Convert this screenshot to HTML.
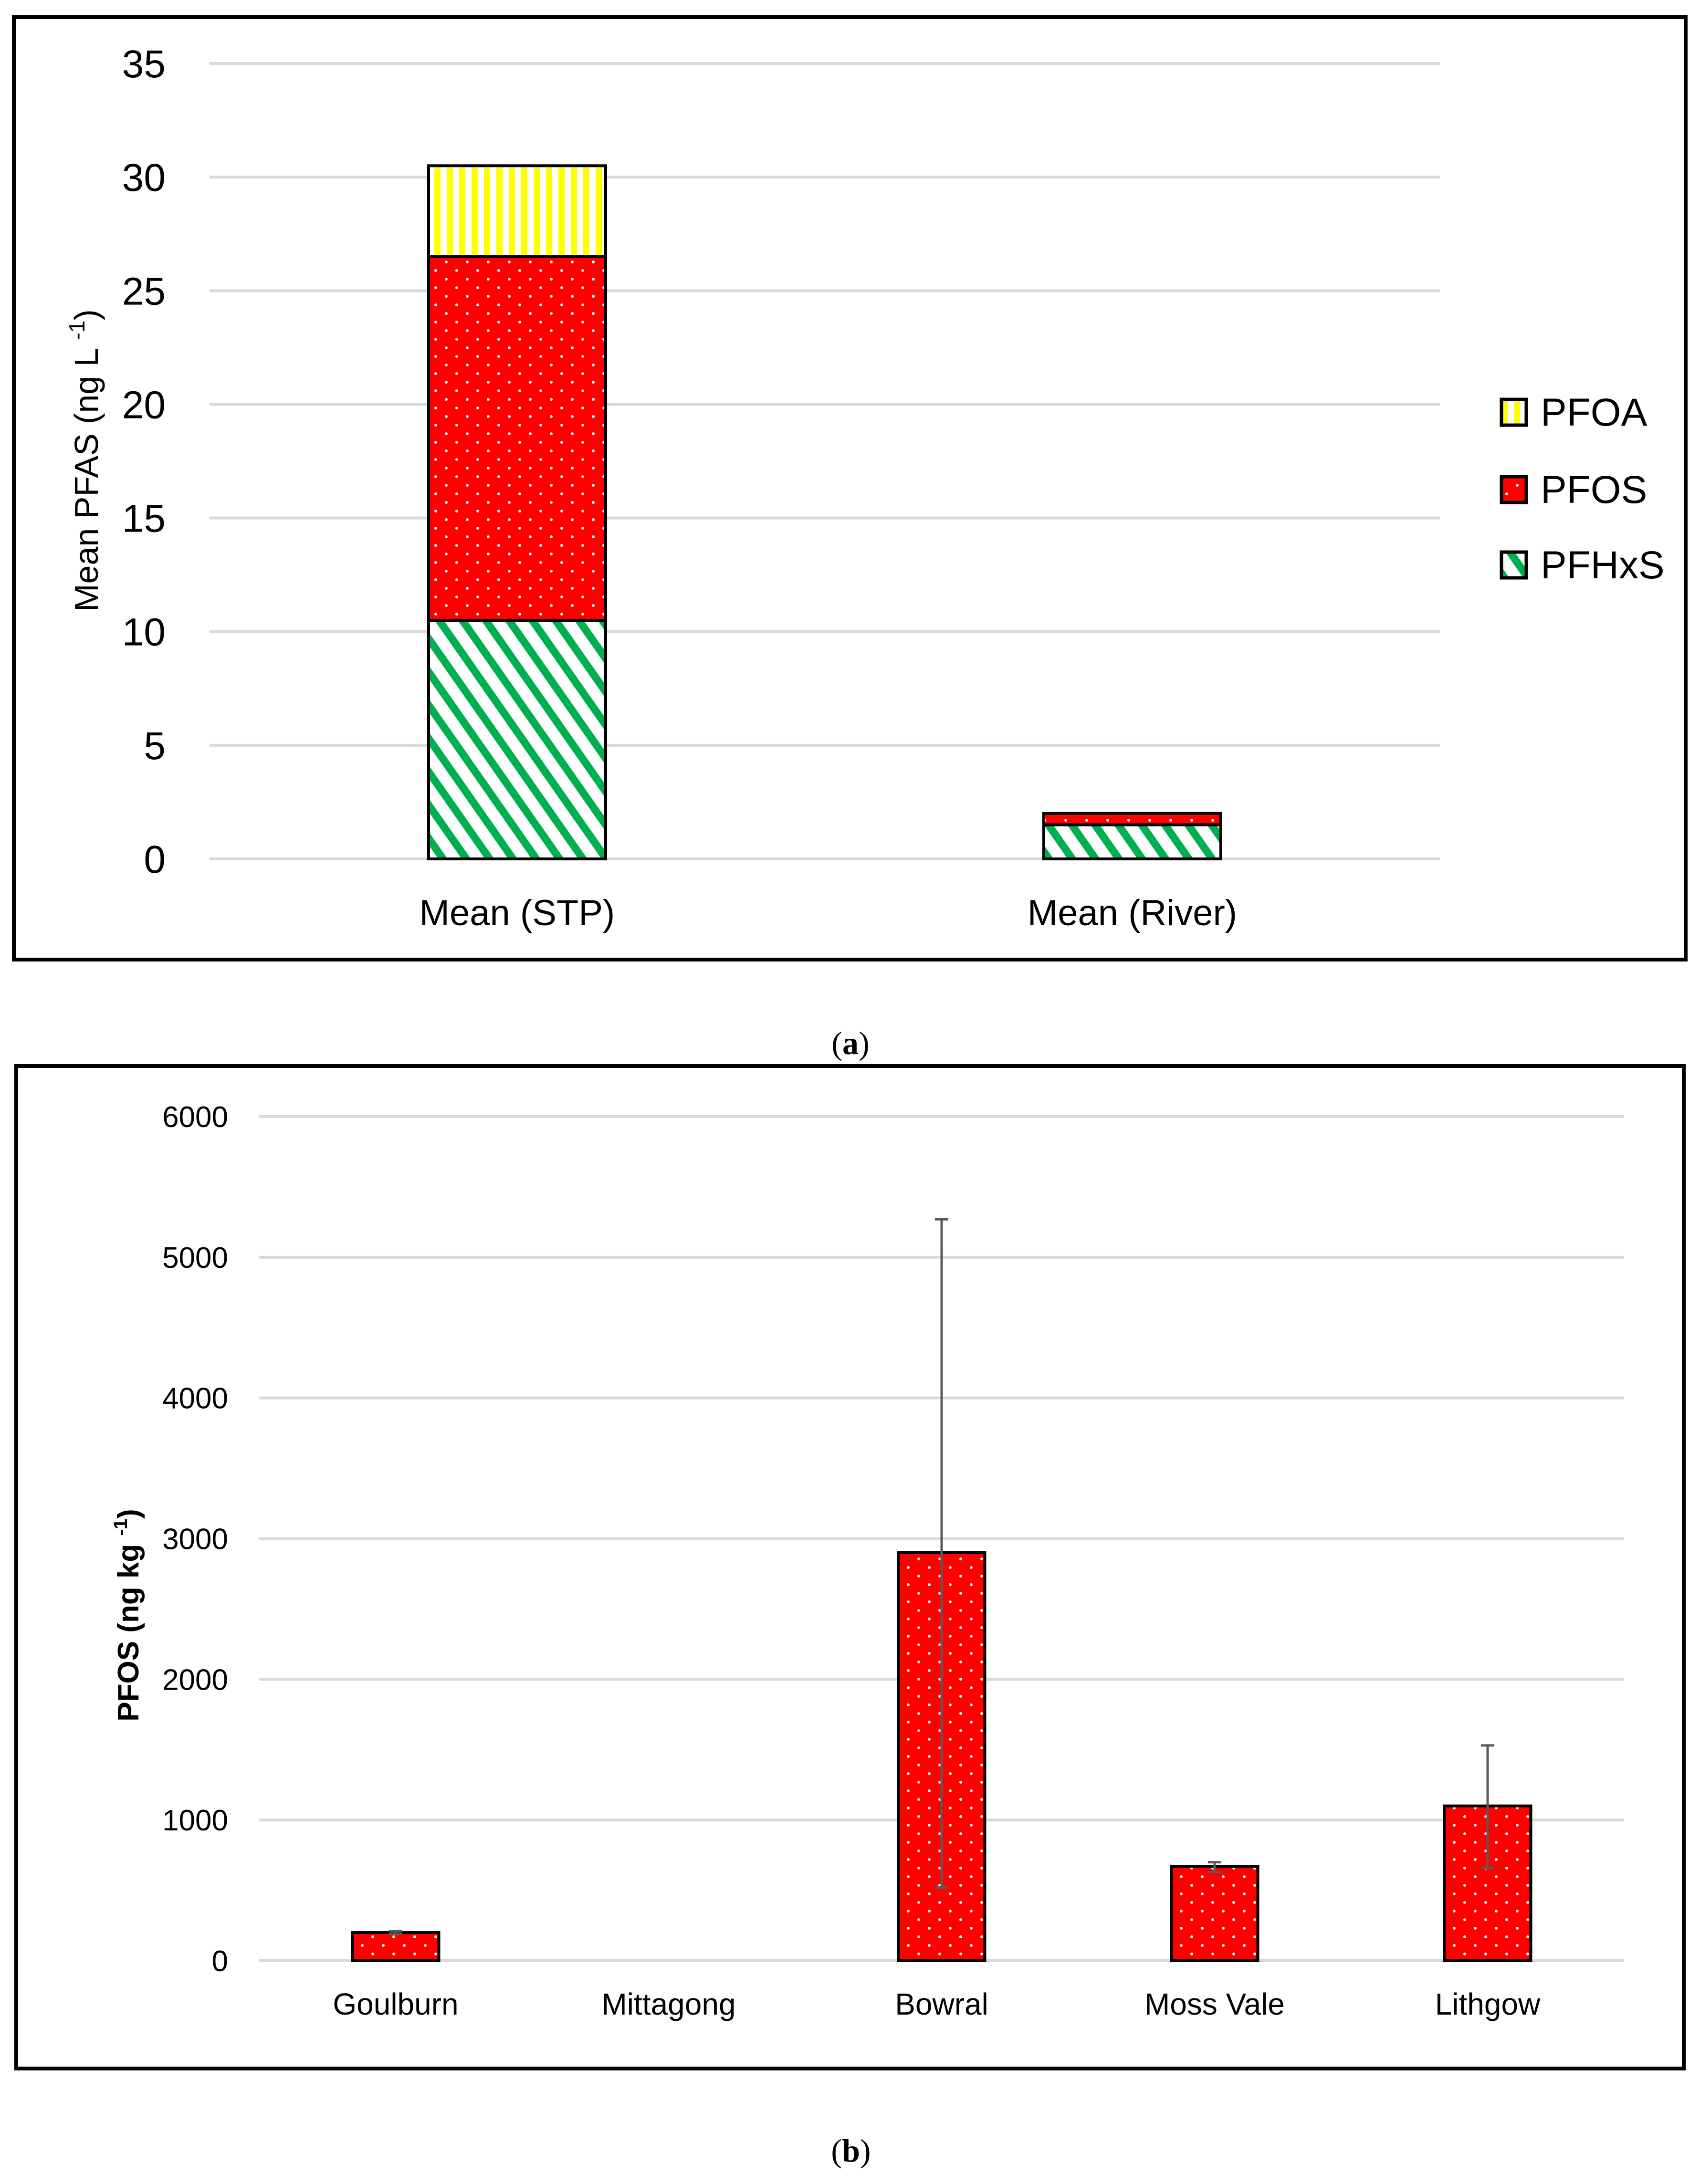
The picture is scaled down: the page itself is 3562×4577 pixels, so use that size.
<!DOCTYPE html>
<html><head><meta charset="utf-8"><style>
html,body{margin:0;padding:0;background:#fff;}
svg{display:block;}
text{font-family:"Liberation Sans Narrow","Liberation Sans",sans-serif;fill:#000;}
.cap{font-family:"Liberation Serif",serif;}
</style></head><body>
<svg id="fig" width="3562" height="4577" viewBox="0 0 3562 4577" xmlns="http://www.w3.org/2000/svg">
<defs>
<pattern id="pVert" patternUnits="userSpaceOnUse" width="26" height="26"><rect width="26" height="26" fill="#fff"/><rect x="0" width="13" height="26" fill="#ffff00"/></pattern>
<pattern id="pDots" patternUnits="userSpaceOnUse" width="44" height="36"><rect width="44" height="36" fill="#ff0000"/><circle cx="11" cy="9" r="3" fill="#fff"/><circle cx="33" cy="27" r="3" fill="#fff"/></pattern>
<pattern id="pDiag" patternUnits="userSpaceOnUse" width="40" height="40" patternTransform="rotate(-35)"><rect width="40" height="40" fill="#fff"/><rect x="0" width="16" height="40" fill="#00b050"/></pattern>
</defs>
<rect x="29" y="36" width="3503" height="1975" fill="none" stroke="#000" stroke-width="8"/>
<rect x="34" y="2234" width="3494" height="2101" fill="none" stroke="#000" stroke-width="8"/>
<g id="chartA"></g>
<g id="chartB"></g>
<text class="cap" x="1782" y="2209" font-size="68" text-anchor="middle">(<tspan font-weight="bold">a</tspan>)</text>
<text class="cap" x="1783" y="4530" font-size="68" text-anchor="middle">(<tspan font-weight="bold">b</tspan>)</text>
</svg>
<script>
const NS="http://www.w3.org/2000/svg";
// ---- Chart A data ----
const catsA=["Mean (STP)","Mean (River)"];
const seriesNamesA=["PFHxS","PFOS","PFOA"];
const pfhxsA=[10.5,1.5];
const pfosA=[16,0.5];
const pfoaA=[4,0];
const ticksA=[0,5,10,15,20,25,30,35];
// ---- Chart B data ----
const catsB=["Goulburn","Mittagong","Bowral","Moss Vale","Lithgow"];
const pfosB=[200,0,2900,670,1100];
const errHiB=[210,0,5270,700,1530];
const errLoB=[190,0,520,630,660];
const ticksB=[0,1000,2000,3000,4000,5000,6000];

function mk(parent,tag,attrs){const e=document.createElementNS(NS,tag);for(const k in attrs)e.setAttribute(k,attrs[k]);parent.appendChild(e);return e;}

// Chart A
(function(){
const g=document.getElementById('chartA');
const x0=439,x1=3017,y0=1800,y1=133,vmax=35;
const y=v=>y0-(v/vmax)*(y0-y1);
const band=(x1-x0)/catsA.length, bw=371;
const cx=i=>x0+band*(i+0.5);
ticksA.forEach(t=>{
 const l=mk(g,'line',{x1:x0,x2:x1,y1:y(t),y2:y(t),stroke:'#d9d9d9','stroke-width':6});
 
 
 const tx=mk(g,'text',{x:347,y:y(t)+29,'font-size':82,'text-anchor':'end'});
 tx.textContent=t;
 
 
});
const fills=['url(#pDiag)','url(#pDots)','url(#pVert)'];
const data=[pfhxsA,pfosA,pfoaA];
catsA.forEach((c,i)=>{
 let base=0;
 data.forEach((arr,s)=>{
  const v=arr[i]; if(v<=0)return;
  const r=mk(g,'rect',{x:cx(i)-bw/2,y:y(base+v),width:bw,height:y(base)-y(base+v),fill:fills[s],stroke:'#000','stroke-width':6});
  
  
  base+=v;
 });
 const t=mk(g,'text',{x:cx(i),y:1939,'font-size':76,'text-anchor':'middle'});
 t.textContent=c;
 
 
});
const yt=mk(g,'text',{x:0,y:0,'font-size':70,'text-anchor':'middle',transform:'translate(205,965) rotate(-90)'});
yt.innerHTML='Mean PFAS (ng L <tspan font-size="46" dy="-28">-1</tspan><tspan dy="28">)</tspan>';


// legend
const legOrder=[2,1,0], legY=[835,997,1155];
legOrder.forEach((s,k)=>{
 const r=mk(g,'rect',{x:3146,y:legY[k]+2,width:52,height:54,fill:fills[s],stroke:'#000','stroke-width':7});
 
 
 const t=mk(g,'text',{x:3228,y:legY[k]+57,'font-size':82});
 t.textContent=seriesNamesA[s];
 
 
});
})();

// Chart B
(function(){
const g=document.getElementById('chartB');
const x0=543,x1=3403,y0=4109,y1=2340,vmax=6000;
const y=v=>y0-(v/vmax)*(y0-y1);
const band=(x1-x0)/catsB.length, bw=181;
const cx=i=>x0+band*(i+0.5);
ticksB.forEach(t=>{
 const l=mk(g,'line',{x1:x0,x2:x1,y1:y(t),y2:y(t),stroke:'#d9d9d9','stroke-width':6});
 
 
 const tx=mk(g,'text',{x:478,y:y(t)+22,'font-size':62,'text-anchor':'end',fill:'#222'});
 tx.textContent=t;
 
 
});
catsB.forEach((c,i)=>{
 const v=pfosB[i];
 if(v>0){
  const r=mk(g,'rect',{x:cx(i)-bw/2,y:y(v),width:bw,height:y(0)-y(v),fill:'url(#pDots)',stroke:'#000','stroke-width':6});
  
  
  const e=mk(g,'path',{d:`M${cx(i)},${y(errHiB[i])}V${y(errLoB[i])}M${cx(i)-14},${y(errHiB[i])}h28M${cx(i)-14},${y(errLoB[i])}h28`,stroke:'#595959','stroke-width':5,fill:'none'});
  
  
 }
 const t=mk(g,'text',{x:cx(i),y:4222,'font-size':64,'text-anchor':'middle',fill:'#222'});
 t.textContent=c;
 
 
});
const yt=mk(g,'text',{x:0,y:0,'font-size':62,'font-weight':'bold','text-anchor':'middle',transform:'translate(290,3385) rotate(-90)'});
yt.innerHTML='PFOS (ng kg <tspan font-size="40" dy="-24">-1</tspan><tspan dy="24">)</tspan>';


})();
</script>
</body></html>
